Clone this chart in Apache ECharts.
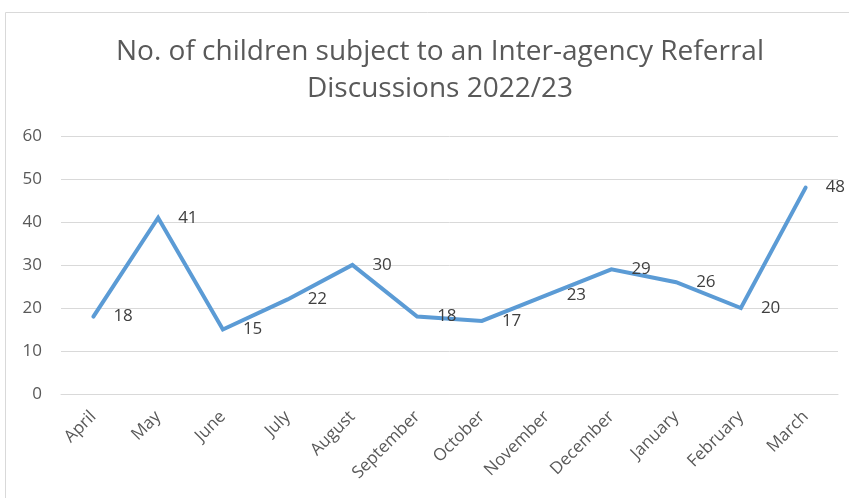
<!DOCTYPE html>
<html>
<head>
<meta charset="utf-8">
<script src="https://cdn.jsdelivr.net/npm/echarts@6/dist/echarts.min.js"></script>
<style>
  html, body { margin: 0; padding: 0; background: #ffffff; }
  #chart { width: 849px; height: 498px; }
</style>
</head>
<body>
<div id="chart"></div>
<script>
// Monthly counts for the 2022/23 reporting year
const months = ['April', 'May', 'June', 'July', 'August', 'September', 'October',
                'November', 'December', 'January', 'February', 'March'];
const children = [18, 41, 15, 22, 30, 18, 17, 23, 29, 26, 20, 48];
const yTicks = { min: 0, max: 60, interval: 10 };

const FONT = '"Open Sans", "Liberation Sans", sans-serif';

const chart = echarts.init(document.getElementById('chart'), null, { renderer: 'canvas' });
chart.setOption({
  backgroundColor: '#ffffff',
  animation: false,
  graphic: [{
    type: 'rect',
    shape: { x: 5.5, y: 12.5, width: 900, height: 600 },
    style: { fill: 'none', stroke: '#d9d9d9', lineWidth: 1 },
    silent: true
  }],
  title: {
    text: 'No. of children subject to an Inter-agency Referral\nDiscussions 2022/23',
    left: 435,
    top: 29,
    textAlign: 'center',
    textStyle: {
      fontFamily: FONT,
      fontSize: 28,
      fontWeight: 'normal',
      color: '#595959',
      lineHeight: 37
    }
  },
  grid: { left: 61, right: 11, top: 136, bottom: 104, containLabel: false },
  xAxis: {
    type: 'category',
    data: months,
    boundaryGap: true,
    axisLine: { show: true, lineStyle: { color: '#d9d9d9', width: 1 } },
    axisTick: { show: false },
    axisLabel: {
      rotate: 45,
      margin: 20,
      interval: 0,
      fontFamily: FONT,
      fontSize: 17,
      color: '#595959'
    }
  },
  yAxis: {
    type: 'value',
    min: yTicks.min,
    max: yTicks.max,
    interval: yTicks.interval,
    axisLine: { show: false },
    axisTick: { show: false },
    splitLine: { lineStyle: { color: '#d9d9d9', width: 1 } },
    axisLabel: {
      margin: 19,
      fontFamily: FONT,
      fontSize: 17,
      color: '#595959'
    }
  },
  series: [{
    type: 'line',
    data: children,
    symbol: 'circle',
    symbolSize: 2,
    showSymbol: true,
    itemStyle: { color: 'rgba(0,0,0,0)', borderWidth: 0 },
    lineStyle: { color: '#5b9bd5', width: 4, cap: 'round', join: 'miter' },
    label: {
      show: true,
      position: 'right',
      distance: 19,
      fontFamily: FONT,
      fontSize: 17,
      color: '#404040'
    },
    labelLayout: { hideOverlap: false }
  }]
});
</script>
</body>
</html>
